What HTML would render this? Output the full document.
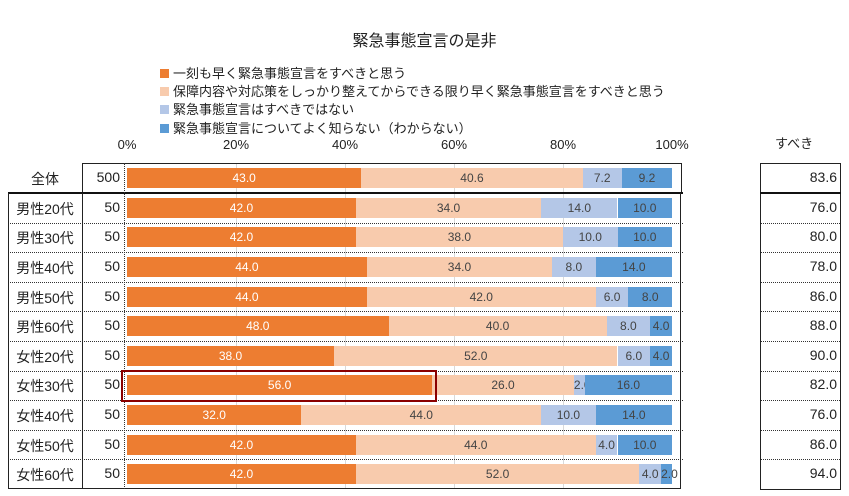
<!DOCTYPE html>
<html><head><meta charset="utf-8"><style>
body{margin:0;width:849px;height:496px;background:#fff;position:relative;overflow:hidden;font-family:"Liberation Sans","Noto Sans CJK JP",sans-serif;color:#222}
.a{position:absolute}
.lg{position:absolute;left:160px;font-size:13px;white-space:nowrap}
.lg i{display:inline-block;width:9px;height:9px;margin-right:4px;vertical-align:0px}
.seg{position:absolute;height:20px;font-size:12px;line-height:20px;text-align:center;overflow:visible;white-space:nowrap}
.lab{position:absolute;left:8px;width:74px;text-align:center;font-size:14px}
.n{position:absolute;left:82px;width:38px;text-align:right;font-size:14px}
.r{position:absolute;left:760px;width:77px;text-align:right;font-size:14px}
.ax{position:absolute;top:137px;font-size:13px;width:50px;text-align:center}
</style></head><body>
<div class="a" style="left:0;width:849px;top:27px;text-align:center;font-size:16px">緊急事態宣言の是非</div>
<div class="lg" style="top:63px"><i style="background:#ed7d31"></i>一刻も早く緊急事態宣言をすべきと思う</div>
<div class="lg" style="top:81px"><i style="background:#f8cbad"></i>保障内容や対応策をしっかり整えてからできる限り早く緊急事態宣言をすべきと思う</div>
<div class="lg" style="top:99px"><i style="background:#b4c7e7"></i>緊急事態宣言はすべきではない</div>
<div class="lg" style="top:118px"><i style="background:#5b9bd5"></i>緊急事態宣言についてよく知らない（わからない）</div>
<div class="ax" style="left:102px">0%</div><div class="ax" style="left:211px">20%</div><div class="ax" style="left:320px">40%</div><div class="ax" style="left:429px">60%</div><div class="ax" style="left:538px">80%</div><div class="ax" style="left:647px">100%</div>
<div class="a" style="left:775px;top:133px;font-size:13px">すべき</div>
<div id="c"></div>
<script>
var d=[["全体",500,[43,40.6,7.2,9.2],"83.6",["43.0","40.6","7.2","9.2"]],
["男性20代",50,[42,34,14,10],"76.0"],["男性30代",50,[42,38,10,10],"80.0"],["男性40代",50,[44,34,8,14],"78.0"],["男性50代",50,[44,42,6,8],"86.0"],["男性60代",50,[48,40,8,4],"88.0"],["女性20代",50,[38,52,6,4],"90.0"],["女性30代",50,[56,26,2,16],"82.0"],["女性40代",50,[32,44,10,14],"76.0"],["女性50代",50,[42,44,4,10],"86.0"],["女性60代",50,[42,52,4,2],"94.0"]];
var cols=["#ed7d31","#f8cbad","#b4c7e7","#5b9bd5"],tc=["#fff","#444","#444","#444"];
var h="",x0=127,s=5.45;
for(var g=1;g<5;g++)h+='<div class="a" style="left:'+(x0+g*20*s)+'px;top:163px;width:1px;height:326px;background:#d9d9d9"></div>';
for(var i=0;i<d.length;i++){var ty=i==0?163:193+(i-1)*29.6,ht=i==0?30:29.6,cy=ty+ht/2;
h+='<div class="lab" style="top:'+(cy-9)+'px">'+d[i][0]+'</div><div class="n" style="top:'+(cy-9)+'px">'+d[i][1]+'</div><div class="r" style="top:'+(cy-9)+'px">'+d[i][3]+'</div>';
var x=x0;for(var k=0;k<4;k++){var w=d[i][2][k]*s;var t=d[i][4]?d[i][4][k]:d[i][2][k].toFixed(1);
h+='<div class="seg" style="left:'+x+'px;width:'+w+'px;top:'+(cy-10)+'px;background:'+cols[k]+';color:'+tc[k]+'">'+t+'</div>';x+=w;}
if(i>0&&i<10){h+='<div class="a" style="left:8px;width:675px;top:'+(ty+ht)+'px;border-top:1px dotted #333"></div><div class="a" style="left:760px;width:80px;top:'+(ty+ht)+'px;border-top:1px dotted #333"></div>';}}
h+='<div class="a" style="left:82px;top:163px;width:598px;height:30px;border:1px solid #222;border-bottom:none"></div>';
h+='<div class="a" style="left:8px;top:192px;width:675px;height:2px;background:#111"></div>';
h+='<div class="a" style="left:8px;top:193px;width:671px;height:295px;border:1px solid #222;border-top:none"></div>';
h+='<div class="a" style="left:82px;top:193px;width:1px;height:296px;background:#222"></div>';
h+='<div class="a" style="left:124px;top:163px;height:326px;border-left:1px dotted #333"></div>';
h+='<div class="a" style="left:760px;top:163px;width:79px;height:325px;border:1px solid #222"></div>';
h+='<div class="a" style="left:760px;top:192px;width:81px;height:2px;background:#111"></div>';
h+='<div class="a" style="left:121px;top:370px;width:312px;height:28px;border:2px solid #8b0000"></div>';
document.getElementById("c").innerHTML=h;
</script>
</body></html>
